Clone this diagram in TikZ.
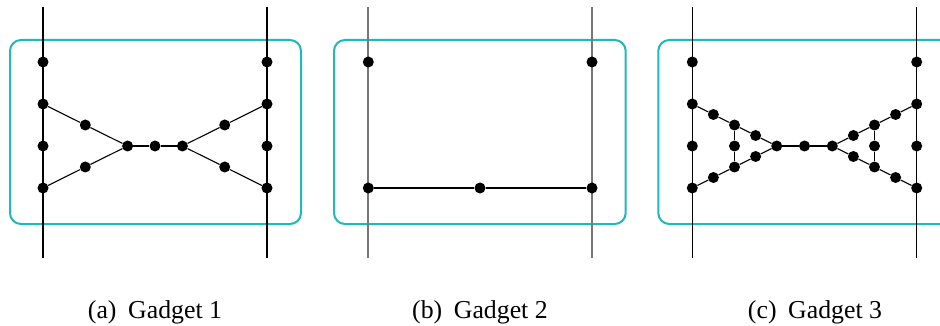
\documentclass[tikz,border=0pt]{standalone}
\usepackage{fontspec}
\setmainfont{Liberation Serif}
\definecolor{boxteal}{RGB}{32,184,184}
\definecolor{railgray}{RGB}{118,118,118}
\tikzset{
  dot/.style={circle,fill=black,inner sep=0pt,minimum size=11pt},
  rail/.style={draw=black,line width=1.2pt},
  grayrail/.style={draw=railgray,line width=2pt},
  edge/.style={draw=black,line width=1.1pt},
  gadgetbox/.style={draw=boxteal,line width=2pt,rounded corners=11pt},
  captext/.style={anchor=base,font=\fontsize{25.8}{30}\selectfont,inner sep=0pt}
}
\begin{document}
\begin{tikzpicture}[x=1pt,y=-1pt]
\clip (0,0) rectangle (940,326);
\fill[white] (0,0) rectangle (940,326);

% ---------------- Gadget 1 ----------------
\draw[gadgetbox] (10,40) rectangle (301,224);
\coordinate (g1lt) at (43,7);   \coordinate (g1lb) at (43,258);
\coordinate (g1rt) at (267,7);  \coordinate (g1rb) at (267,258);
\draw[rail] (g1lt) -- (g1lb);
\draw[rail] (g1rt) -- (g1rb);
\node[dot] (g1a1) at (43,62) {};
\node[dot] (g1a2) at (43,104) {};
\node[dot] (g1a3) at (43,146) {};
\node[dot] (g1a4) at (43,188) {};
\node[dot] (g1b1) at (267,62) {};
\node[dot] (g1b2) at (267,104) {};
\node[dot] (g1b3) at (267,146) {};
\node[dot] (g1b4) at (267,188) {};
\node[dot] (g1c1) at (85.3,125) {};
\node[dot] (g1c2) at (85.3,167) {};
\node[dot] (g1m1) at (127.6,146) {};
\node[dot] (g1m2) at (155,146) {};
\node[dot] (g1m3) at (182.4,146) {};
\node[dot] (g1d1) at (224.7,125) {};
\node[dot] (g1d2) at (224.7,167) {};
\draw[edge] (g1a2) -- (g1c1) -- (g1m1);
\draw[edge] (g1a4) -- (g1c2) -- (g1m1);
\draw[edge] (g1m1) -- (g1m2) -- (g1m3);
\draw[edge] (g1m3) -- (g1d1) -- (g1b2);
\draw[edge] (g1m3) -- (g1d2) -- (g1b4);
\node[captext] (cap1) at (155,318) {(a)\hspace{0.45em}Gadget 1};

% ---------------- Gadget 2 ----------------
\draw[gadgetbox] (334,40) rectangle (625.7,224);
\coordinate (g2lt) at (368.3,7);  \coordinate (g2lb) at (368.3,258);
\coordinate (g2rt) at (592,7);    \coordinate (g2rb) at (592,258);
\draw[grayrail] (g2lt) -- (g2lb);
\draw[grayrail] (g2rt) -- (g2rb);
\node[dot] (g2a1) at (368.3,62) {};
\node[dot] (g2a2) at (368.3,188) {};
\node[dot] (g2b1) at (592,62) {};
\node[dot] (g2b2) at (592,188) {};
\node[dot] (g2m) at (480,188) {};
\draw[edge] (g2a2) -- (g2m) -- (g2b2);
\node[captext] (cap2) at (480,318) {(b)\hspace{0.45em}Gadget 2};

% ---------------- Gadget 3 ----------------
\draw[gadgetbox] (658.3,40) rectangle (990,224);
\coordinate (g3lt) at (692.3,7);  \coordinate (g3lb) at (692.3,258);
\coordinate (g3rt) at (916.7,7);  \coordinate (g3rb) at (916.7,258);
\draw[rail] (g3lt) -- (g3lb);
\draw[rail] (g3rt) -- (g3rb);
\node[dot] (g3a1) at (692.3,62) {};
\node[dot] (g3a2) at (692.3,104) {};
\node[dot] (g3a3) at (692.3,146) {};
\node[dot] (g3a4) at (692.3,188) {};
\node[dot] (g3b1) at (916.7,62) {};
\node[dot] (g3b2) at (916.7,104) {};
\node[dot] (g3b3) at (916.7,146) {};
\node[dot] (g3b4) at (916.7,188) {};
% left triangle part
\node[dot] (g3p1) at (713.4,114.5) {};
\node[dot] (g3p2) at (734.5,125) {};
\node[dot] (g3p3) at (755.6,135.5) {};
\node[dot] (g3q1) at (713.4,177.5) {};
\node[dot] (g3q2) at (734.5,167) {};
\node[dot] (g3q3) at (755.6,156.5) {};
\node[dot] (g3pm) at (734.5,146) {};
% middle
\node[dot] (g3m1) at (776.7,146) {};
\node[dot] (g3m2) at (804.5,146) {};
\node[dot] (g3m3) at (832.3,146) {};
% right triangle part
\node[dot] (g3r3) at (853.4,135.5) {};
\node[dot] (g3r2) at (874.5,125) {};
\node[dot] (g3r1) at (895.6,114.5) {};
\node[dot] (g3s3) at (853.4,156.5) {};
\node[dot] (g3s2) at (874.5,167) {};
\node[dot] (g3s1) at (895.6,177.5) {};
\node[dot] (g3rm) at (874.5,146) {};
\draw[edge] (g3a2) -- (g3p1) -- (g3p2) -- (g3p3) -- (g3m1);
\draw[edge] (g3a4) -- (g3q1) -- (g3q2) -- (g3q3) -- (g3m1);
\draw[edge] (g3p2) -- (g3pm) -- (g3q2);
\draw[edge] (g3m1) -- (g3m2) -- (g3m3);
\draw[edge] (g3m3) -- (g3r3) -- (g3r2) -- (g3r1) -- (g3b2);
\draw[edge] (g3m3) -- (g3s3) -- (g3s2) -- (g3s1) -- (g3b4);
\draw[edge] (g3r2) -- (g3rm) -- (g3s2);
\node[captext] (cap3) at (815,318) {(c)\hspace{0.45em}Gadget 3};
\end{tikzpicture}
\end{document}
